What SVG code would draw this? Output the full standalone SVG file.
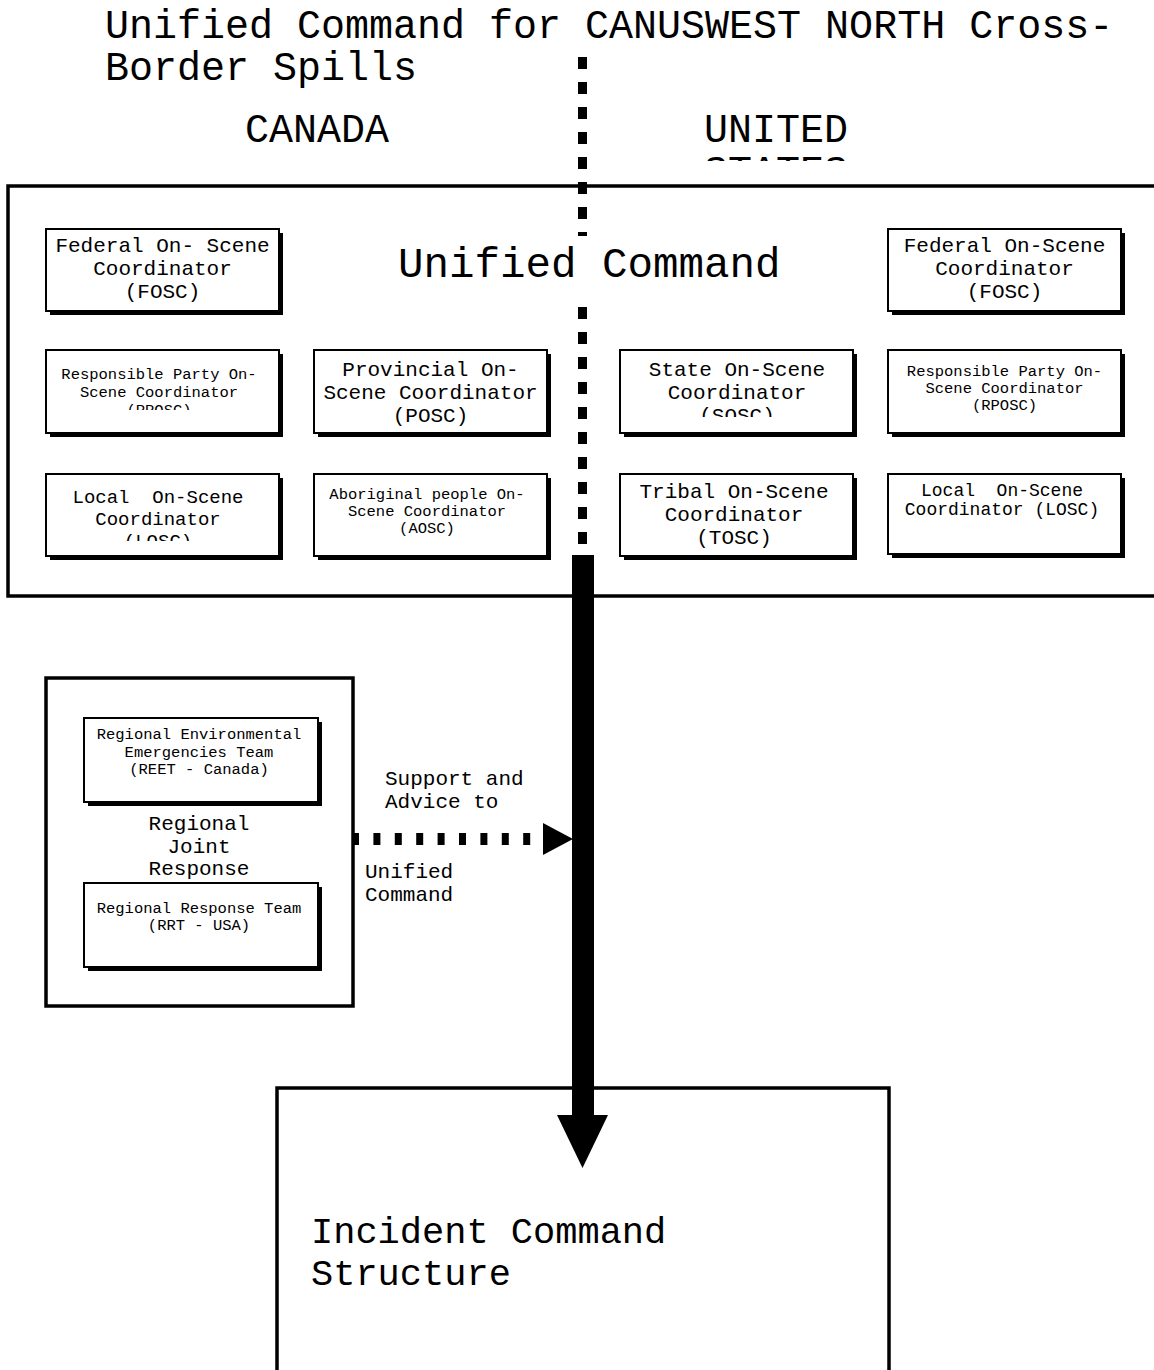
<svg xmlns="http://www.w3.org/2000/svg" width="1154" height="1370" viewBox="0 0 1154 1370">
<style>
text{font-family:"Liberation Mono","Courier New",monospace;fill:#000}
.t40{font-size:40px}
.t21{font-size:21px}
.t19{font-size:19px}
.t18{font-size:18px}
.t16{font-size:15.5px}
.c{text-anchor:middle}
.frame{fill:#fff;stroke:#000;stroke-width:3.5}
.box{fill:#fff;stroke:#000;stroke-width:2}
.shadow{fill:#000}
</style>
<defs>
<clipPath id="clipStates"><rect x="600" y="100" width="400" height="61"/></clipPath>
<clipPath id="clipRp1"><rect x="46" y="350" width="234" height="60"/></clipPath>
<clipPath id="clipSosc"><rect x="620" y="350" width="234" height="67"/></clipPath>
<clipPath id="clipLosc1"><rect x="46" y="474" width="234" height="67"/></clipPath>
</defs>

<g id="title">
<text class="t40" x="105" y="38">Unified Command for CANUSWEST NORTH Cross-</text>
<text class="t40" x="105" y="80">Border Spills</text>
</g>
<g id="country-labels">
<text class="t40" x="245" y="142">CANADA</text>
<text class="t40" x="704" y="142">UNITED</text>
<text class="t40" x="704" y="184" clip-path="url(#clipStates)">STATES</text>
</g>

<g id="unified-command">
<rect class="frame" x="8" y="186" width="1160" height="410"/>
</g>

<g id="connectors">
<line x1="582.5" y1="57" x2="582.5" y2="545" stroke="#000" stroke-width="9" stroke-dasharray="12 13"/>
</g>

<g id="uc-label">
<rect x="392" y="236" width="395" height="70" fill="#fff"/>
<text x="398" y="277" style="font-size:42.5px">Unified Command</text>
</g>

<g id="ca-fosc">
<rect class="shadow" x="50" y="233" width="233" height="82"/>
<rect class="box" x="46" y="229" width="233" height="82"/>
<text class="t21 c" x="162.5" y="252">Federal On- Scene</text>
<text class="t21 c" x="162.5" y="275">Coordinator</text>
<text class="t21 c" x="162.5" y="298">(FOSC)</text>
</g>
<g id="us-fosc">
<rect class="shadow" x="892" y="233" width="233" height="82"/>
<rect class="box" x="888" y="229" width="233" height="82"/>
<text class="t21 c" x="1004.5" y="252">Federal On-Scene</text>
<text class="t21 c" x="1004.5" y="275">Coordinator</text>
<text class="t21 c" x="1004.5" y="298">(FOSC)</text>
</g>

<g id="ca-rposc">
<rect class="shadow" x="50" y="354" width="233" height="83"/>
<rect class="box" x="46" y="350" width="233" height="83"/>
<g clip-path="url(#clipRp1)">
<text class="t16 c" x="159" y="379">Responsible Party On-</text>
<text class="t16 c" x="159" y="397">Scene Coordinator</text>
<text class="t16 c" x="159" y="415">(RPOSC)</text>
</g>
</g>
<g id="posc">
<rect class="shadow" x="318" y="354" width="233" height="83"/>
<rect class="box" x="314" y="350" width="233" height="83"/>
<text class="t21 c" x="430.5" y="376">Provincial On-</text>
<text class="t21 c" x="430.5" y="399">Scene Coordinator</text>
<text class="t21 c" x="430.5" y="422">(POSC)</text>
</g>
<g id="sosc">
<rect class="shadow" x="624" y="354" width="233" height="83"/>
<rect class="box" x="620" y="350" width="233" height="83"/>
<g clip-path="url(#clipSosc)">
<text class="t21 c" x="737" y="376">State On-Scene</text>
<text class="t21 c" x="737" y="399">Coordinator</text>
<text class="t21 c" x="737" y="422">(SOSC)</text>
</g>
</g>
<g id="us-rposc">
<rect class="shadow" x="892" y="354" width="233" height="83"/>
<rect class="box" x="888" y="350" width="233" height="83"/>
<text class="t16 c" x="1004.5" y="376">Responsible Party On-</text>
<text class="t16 c" x="1004.5" y="393">Scene Coordinator</text>
<text class="t16 c" x="1004.5" y="410">(RPOSC)</text>
</g>

<g id="ca-losc">
<rect class="shadow" x="50" y="478" width="233" height="82"/>
<rect class="box" x="46" y="474" width="233" height="82"/>
<g clip-path="url(#clipLosc1)">
<text class="t19 c" x="158" y="503" xml:space="preserve">Local  On-Scene</text>
<text class="t19 c" x="158" y="525">Coordinator</text>
<text class="t19 c" x="158" y="547">(LOSC)</text>
</g>
</g>
<g id="aosc">
<rect class="shadow" x="318" y="478" width="233" height="82"/>
<rect class="box" x="314" y="474" width="233" height="82"/>
<text class="t16 c" x="427" y="499">Aboriginal people On-</text>
<text class="t16 c" x="427" y="516">Scene Coordinator</text>
<text class="t16 c" x="427" y="533">(AOSC)</text>
</g>
<g id="tosc">
<rect class="shadow" x="624" y="478" width="233" height="82"/>
<rect class="box" x="620" y="474" width="233" height="82"/>
<text class="t21 c" x="734" y="498">Tribal On-Scene</text>
<text class="t21 c" x="734" y="521">Coordinator</text>
<text class="t21 c" x="734" y="544">(TOSC)</text>
</g>
<g id="us-losc">
<rect class="shadow" x="892" y="478" width="233" height="80"/>
<rect class="box" x="888" y="474" width="233" height="80"/>
<text class="t18 c" x="1002" y="496" xml:space="preserve">Local  On-Scene</text>
<text class="t18 c" x="1002" y="515">Coordinator (LOSC)</text>
</g>

<g id="regional-joint-response">
<rect class="frame" x="46" y="678" width="307" height="328"/>
<text class="t21 c" x="199" y="830">Regional</text>
<text class="t21 c" x="199" y="853">Joint</text>
<text class="t21 c" x="199" y="875">Response</text>
</g>
<g id="reet">
<rect class="shadow" x="88" y="722" width="234" height="84"/>
<rect class="box" x="84" y="718" width="234" height="84"/>
<text class="t16 c" x="199" y="739">Regional Environmental</text>
<text class="t16 c" x="199" y="757">Emergencies Team</text>
<text class="t16 c" x="199" y="774">(REET - Canada)</text>
</g>
<g id="rrt">
<rect class="shadow" x="88" y="887" width="234" height="84"/>
<rect class="box" x="84" y="883" width="234" height="84"/>
<text class="t16 c" x="199" y="913">Regional Response Team</text>
<text class="t16 c" x="199" y="930">(RRT - USA)</text>
</g>

<g id="incident-command">
<rect class="frame" x="277" y="1088" width="612" height="300"/>
<text x="311" y="1243" style="font-size:37px">Incident Command</text>
<text x="311" y="1285" style="font-size:37px">Structure</text>
</g>

<g id="connectors-arrows">
<rect x="572" y="555" width="22" height="562" fill="#000"/>
<polygon points="557,1115 608,1115 582.5,1168" fill="#000"/>
<line x1="352" y1="839" x2="531" y2="839" stroke="#000" stroke-width="12" stroke-dasharray="7 14.4"/>
<polygon points="543,823 573,839 543,855" fill="#000"/>
<text class="t21" x="385" y="785">Support and</text>
<text class="t21" x="385" y="808">Advice to</text>
<text class="t21" x="365" y="878">Unified</text>
<text class="t21" x="365" y="901">Command</text>
</g>
</svg>
